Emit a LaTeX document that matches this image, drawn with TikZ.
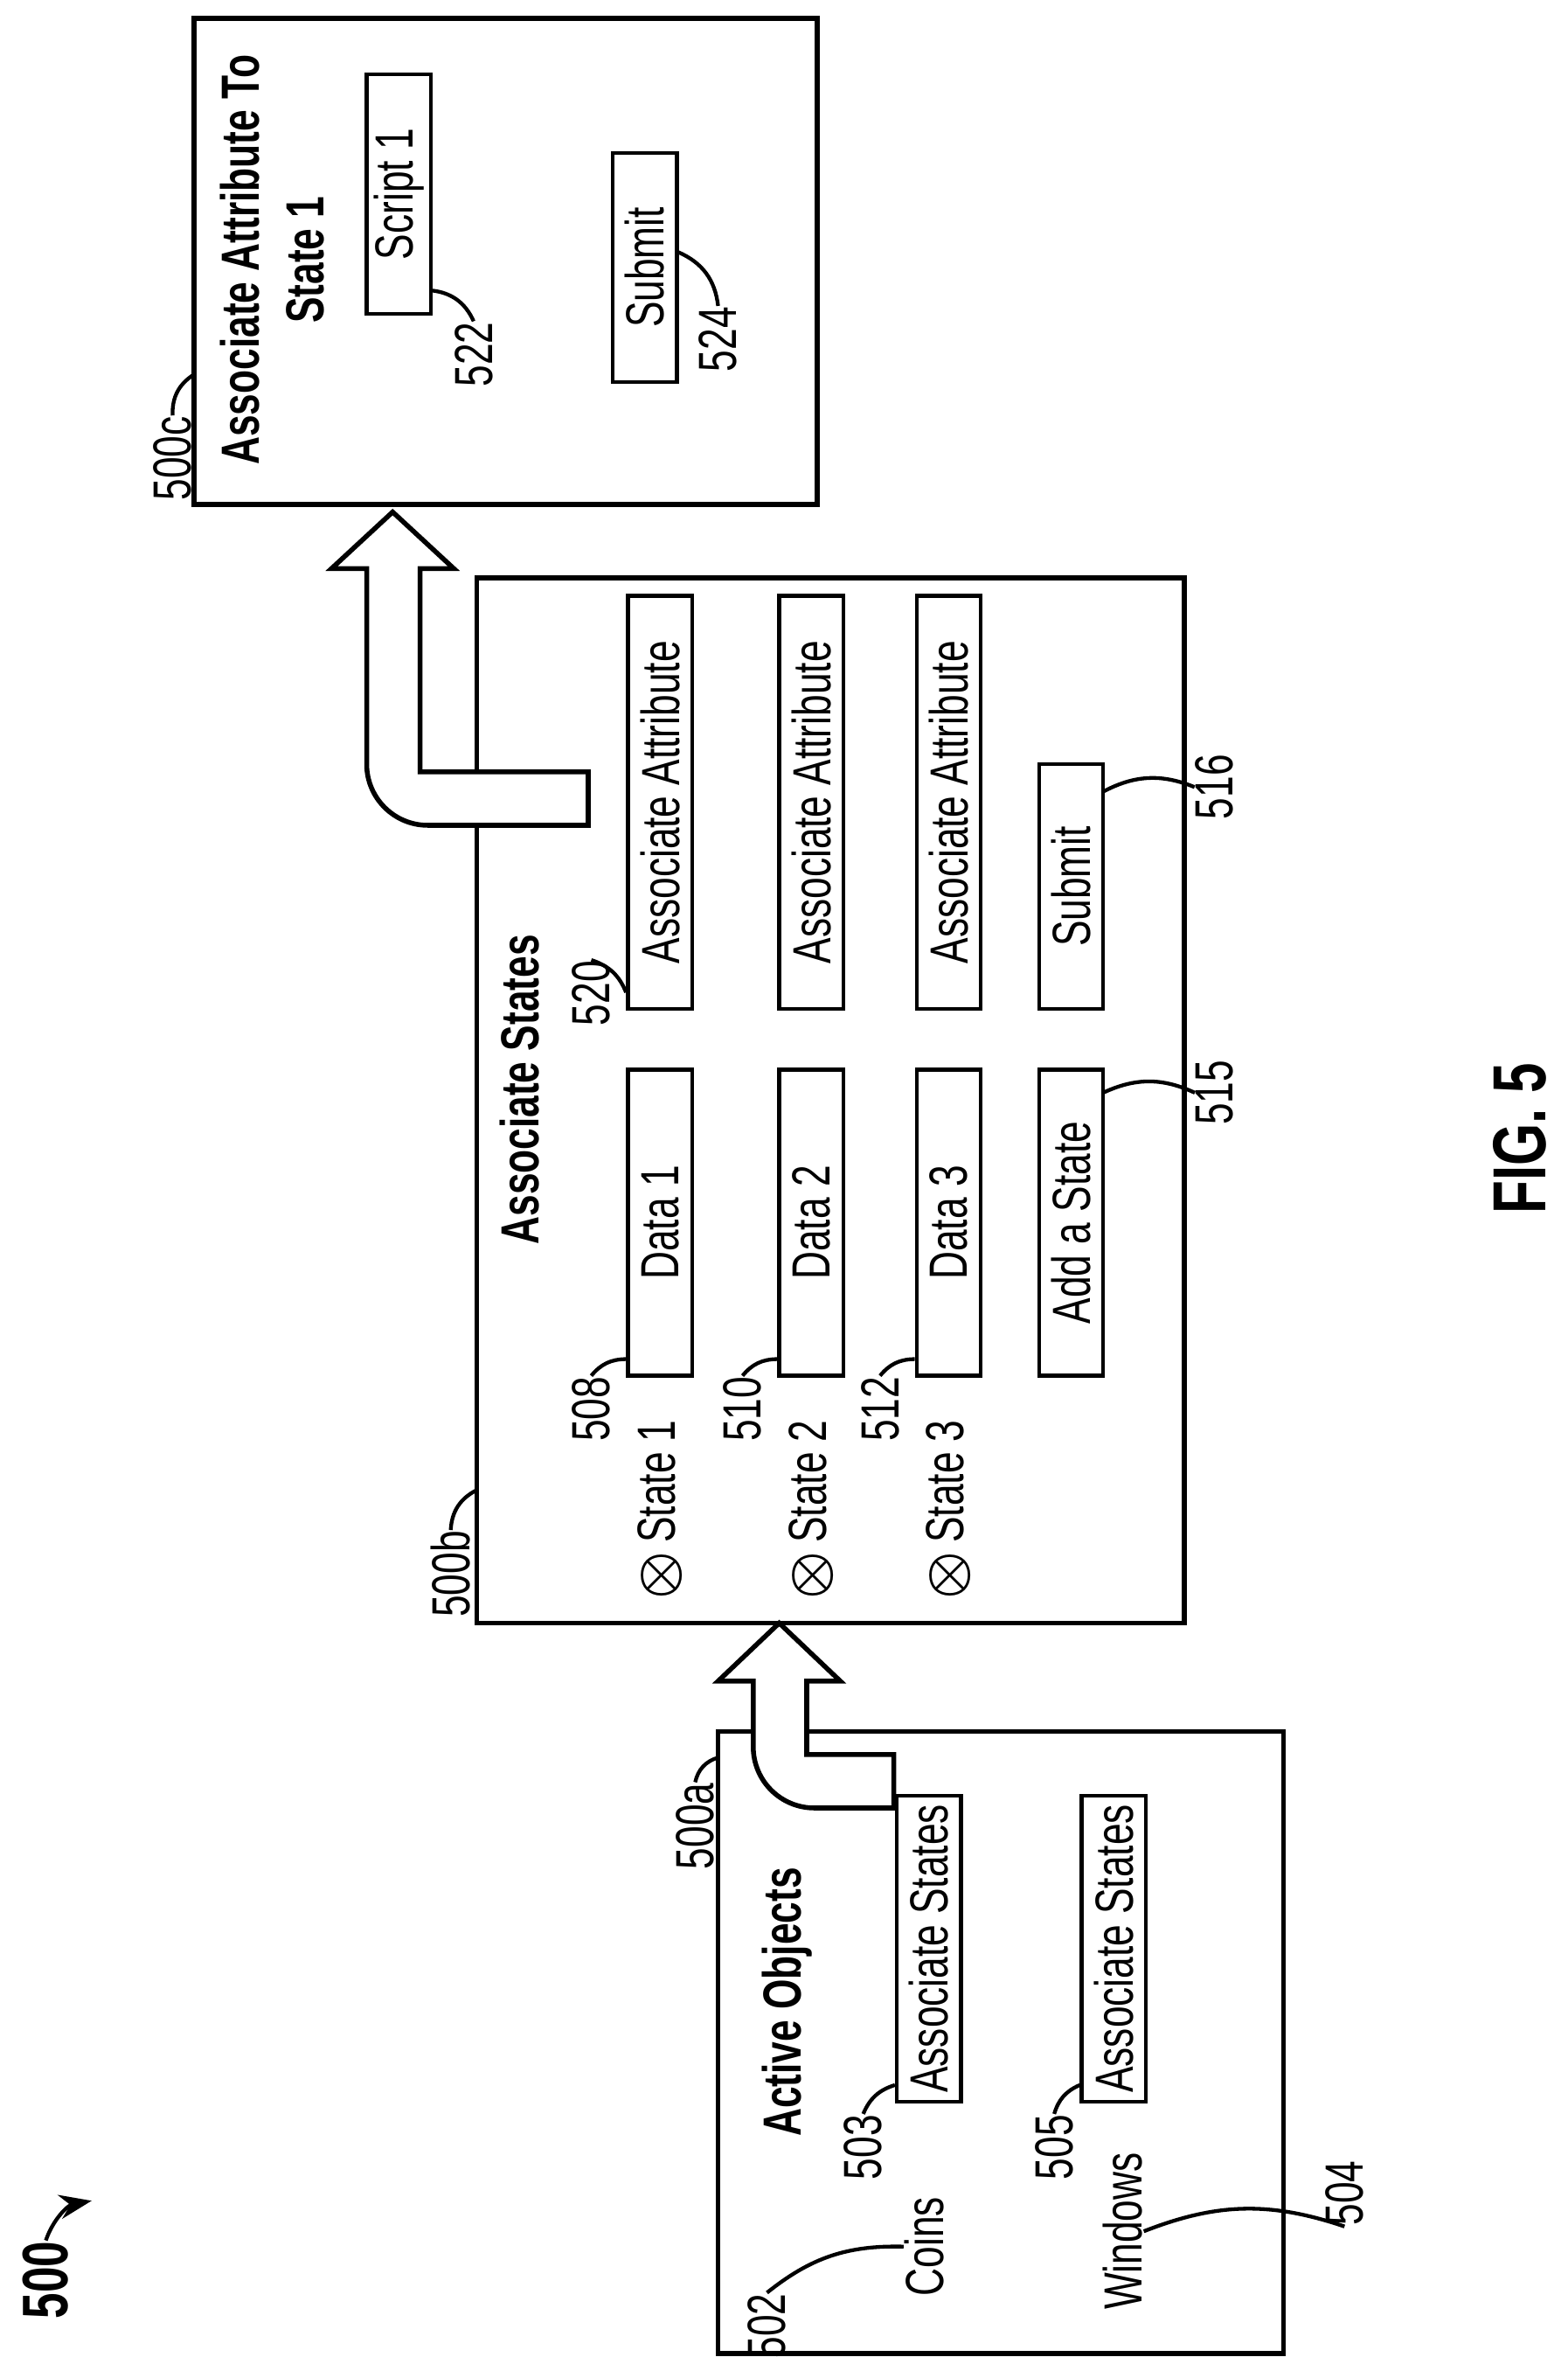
\documentclass[tikz,border=0pt]{standalone}
\usepackage{graphicx}
\usepackage{amsmath}
\usepackage{fontspec}
\setmainfont{Liberation Sans}
\usetikzlibrary{arrows.meta,positioning}
\newcommand{\nar}[1]{\scalebox{0.72}[1]{#1}}
\tikzset{
  txt/.style={rotate=90, inner sep=0pt, font=\fontsize{10}{12}\selectfont},
  ttl/.style={txt, font=\fontsize{10}{12}\selectfont\bfseries},
  box/.style={txt, draw, line width=0.7pt, minimum height=0.42cm},
  frame/.style={draw, line width=0.9pt},
  lead/.style={line width=0.7pt},
  hollow/.style={draw, line width=0.9pt, fill=white}
}
\begin{document}
\begin{tikzpicture}[x=0.01cm, y=-0.01cm]
  \useasboundingbox (0,0) rectangle (1026,1556);
  % frames
  \draw[frame] (470,1133) rectangle (840,1540);
  \draw[frame] (312,378) rectangle (775,1062);
  \draw[frame] (127,12) rectangle (535,330);
  \coordinate (c500a) at (470,1150);
  \coordinate (c500b) at (312,975);
  \coordinate (c500c) at (127,245);

  % 500a
  \node[ttl] (t500a) at (515,1310) {\nar{Active Objects}};
  \node[box, minimum width=2cm] (b503) at (608,1275) {\nar{Associate States}};
  \node[box, minimum width=2cm] (b505) at (729,1275) {\nar{Associate States}};
  \node[txt] (coins) at (605,1470) {\nar{Coins}};
  \node[txt] (windows) at (735,1460) {\nar{Windows}};
  \node[txt] (l503) at (565,1405) {\nar{503}};
  \node[txt] (l505) at (690,1405) {\nar{505}};
  \node[txt] (l502) at (502,1522) {\nar{502}};
  \node[txt] (l504) at (880,1435) {\nar{504}};
  \node[txt] (l500a) at (455,1195) {\nar{500a}};
  \draw[lead] (l503.east) to[bend left=25] ([yshift=0.12cm]b503.north west);
  \draw[lead] (l505.east) to[bend left=25] ([yshift=0.12cm]b505.north west);
  \draw[lead] (l502.east) to[bend left=20] (coins.north);
  \draw[lead] (l504.west) to[bend right=20] (windows.south);
  \draw[lead] (l500a.east) to[bend left=30] (c500a);

  % 500b
  \node[ttl] (t500b) at (340,713) {\nar{Associate States}};
  \foreach \i/\x/\d/\l in {1/432/Data 1/508, 2/531/Data 2/510, 3/621/Data 3/512}{
    \node[txt] (st\i) at (\x,988) {$\boldsymbol{\otimes}$\,\nar{State \i}};
    \node[box, minimum width=2cm] (dt\i) at (\x,800) {\nar{\d}};
    \node[box, minimum width=2.7cm] (aa\i) at (\x,525) {\nar{Associate Attribute}};
    \node[txt] (ld\i) at (\x-45,922) {\nar{\l}};
    \draw[lead] (ld\i.east) to[bend left=25] ([yshift=0.12cm]dt\i.north west);
  }
  \node[box, minimum width=2cm] (badd) at (701,800) {\nar{Add a State}};
  \node[box, minimum width=1.6cm] (bsub) at (701,580) {\nar{Submit}};
  \coordinate (cadd) at (722,715);
  \coordinate (csub) at (722,518);
  \node[txt] (l520) at (387,650) {\nar{520}};
  \node[txt] (l515) at (795,715) {\nar{515}};
  \node[txt] (l516) at (795,515) {\nar{516}};
  \node[txt] (l500b) at (295,1030) {\nar{500b}};
  \draw[lead] (l520.east) to[bend left=25] ([yshift=0.12cm]aa1.north west);
  \draw[lead] (l515.north) to[bend right=25] (cadd);
  \draw[lead] (l516.north) to[bend right=25] (csub);
  \draw[lead] (l500b.east) to[bend left=30] (c500b);

  % 500c
  \node[ttl, align=center] (t500c) at (178,170) {\nar{Associate Attribute To}\\\nar{State 1}};
  \node[box, minimum width=1.57cm] (bscr) at (261,127) {\nar{Script 1}};
  \node[box, minimum width=1.5cm] (bsub2) at (422,175) {\nar{Submit}};
  \coordinate (cscr) at (282,190);
  \coordinate (csub2) at (444,165);
  \node[txt] (l522) at (310,232) {\nar{522}};
  \node[txt] (l524) at (470,222) {\nar{524}};
  \node[txt] (l500c) at (113,300) {\nar{500c}};
  \draw[lead] (l522.east) to[bend right=30] (cscr);
  \draw[lead] (l524.east) to[bend right=30] (csub2);
  \draw[lead] (l500c.east) to[bend left=30] (c500c);

  % hollow arrows
  \path[hollow] (510,1062) -- (550,1100) -- (528,1100) -- (528,1148) -- (585,1148)
    -- (585,1183) [rounded corners=0.4cm] -- (493,1183) [sharp corners] -- (493,1100)
    -- (470,1100) -- cycle;
  \path[hollow] (257,335) -- (297,372) -- (275,372) -- (275,505) -- (385,505)
    -- (385,540) [rounded corners=0.4cm] -- (240,540) [sharp corners] -- (240,372)
    -- (217,372) -- cycle;

  % figure number
  \node[ttl, font=\fontsize{12}{14}\selectfont\bfseries] (l500) at (30,1492) {\nar{500}};
  \coordinate (a500) at (60,1440);
  \draw[lead, -{Stealth[length=6pt]}] (l500.east) to[bend left=30] (a500);
  \node[ttl, font=\fontsize{14}{16}\selectfont\bfseries] (fig) at (995,745) {\nar{FIG. 5}};
\end{tikzpicture}
\end{document}
